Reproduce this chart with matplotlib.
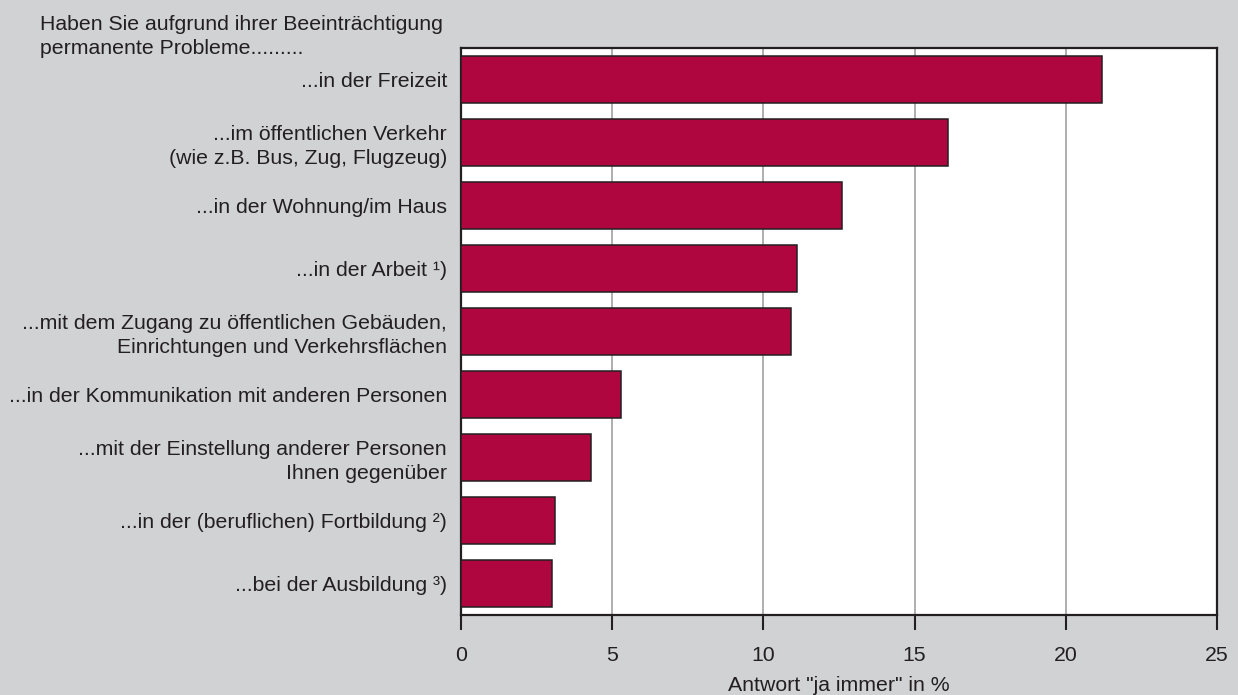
import matplotlib
matplotlib.use("Agg")
import matplotlib.pyplot as plt

plt.rcParams['font.family'] = ['Liberation Sans', 'DejaVu Sans']

categories = [
    "...in der Freizeit",
    "...im öffentlichen Verkehr\n(wie z.B. Bus, Zug, Flugzeug)",
    "...in der Wohnung/im Haus",
    "...in der Arbeit ¹)",
    "...mit dem Zugang zu öffentlichen Gebäuden,\nEinrichtungen und Verkehrsflächen",
    "...in der Kommunikation mit anderen Personen",
    "...mit der Einstellung anderer Personen\nIhnen gegenüber",
    "...in der (beruflichen) Fortbildung ²)",
    "...bei der Ausbildung ³)",
]
values = [21.2, 16.1, 12.6, 11.1, 10.9, 5.3, 4.3, 3.1, 3.0]
xticks = [0, 5, 10, 15, 20, 25]
header = "Haben Sie aufgrund ihrer Beeinträchtigung\npermanente Probleme........."
xlabel = 'Antwort "ja immer" in %'

bg = "#d1d2d4"
bar_color = "#b0063f"
text_color = "#231f20"
fs = 15.3

fig = plt.figure(figsize=(12.38, 6.95), dpi=100, facecolor=bg)
ax = fig.add_axes([461/1238, 1-615/695, (1217-461)/1238, (615-47.7)/695])
ax.set_facecolor("white")

pos = list(range(len(categories)))
ax.barh(pos, values, height=0.75, color=bar_color, edgecolor="#231f20",
        linewidth=1.1, zorder=3)
ax.set_ylim(len(categories) - 0.5, -0.5)
ax.set_xlim(0, 25)
ax.set_xticks(xticks)
ax.set_xticklabels([str(t) for t in xticks], fontsize=fs, color=text_color)
ax.set_yticks(pos)
ax.set_yticklabels(categories, fontsize=fs, color=text_color, ha="right",
                   linespacing=1.3)
ax.tick_params(axis="y", length=0, pad=10)
ax.tick_params(axis="x", length=11, width=1.5, direction="out", pad=11,
               color="#231f20")
ax.xaxis.grid(True, color="#a8a8a8", linewidth=1.3, zorder=0)
ax.set_axisbelow(True)
for s in ax.spines.values():
    s.set_color("#231f20")
    s.set_linewidth(1.6)
ax.set_xlabel(xlabel, fontsize=fs, color=text_color, labelpad=8)

fig.text(40/1238, 1-15/695, header, fontsize=fs, color=text_color,
         ha="left", va="top", linespacing=1.35)

fig.savefig("out.png", dpi=100, facecolor=bg)
